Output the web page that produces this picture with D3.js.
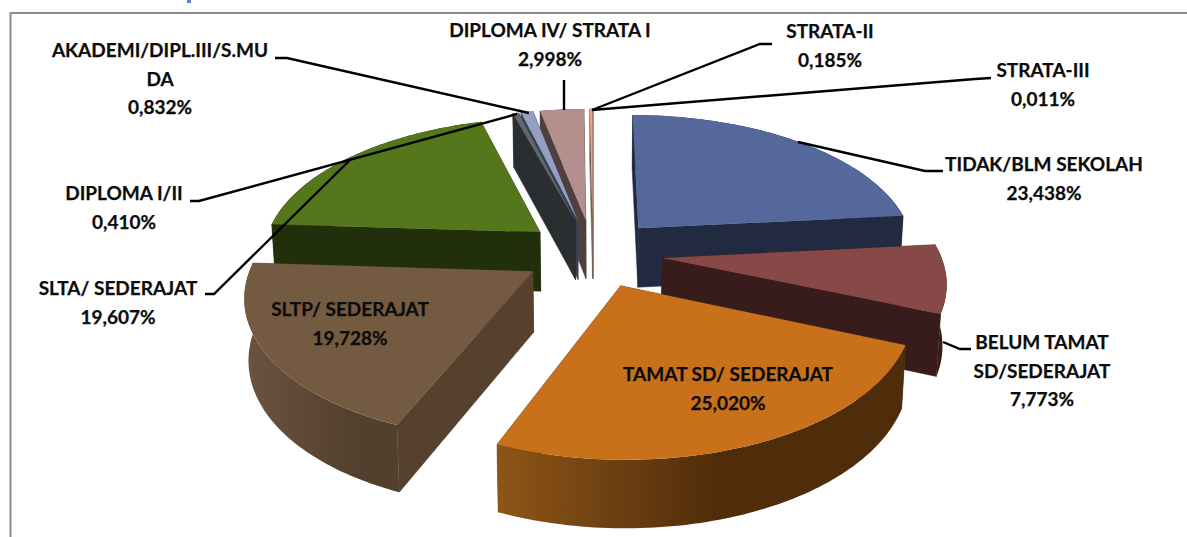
<!DOCTYPE html>
<html><head><meta charset="utf-8">
<script src="https://cdn.jsdelivr.net/npm/d3@7/dist/d3.min.js"></script>
<style>html,body{margin:0;padding:0;background:#fff;overflow:hidden}svg{display:block}
text{font-family:Lato,"Open Sans",sans-serif;font-weight:700;font-size:19px;fill:#0c0c0c;text-anchor:middle;stroke:#0c0c0c;stroke-width:.25}</style>
</head><body><svg id="c" width="1187" height="537"></svg>
<script>
const categories=["TIDAK/BLM SEKOLAH","BELUM TAMAT SD/SEDERAJAT","TAMAT SD/ SEDERAJAT","SLTP/ SEDERAJAT","SLTA/ SEDERAJAT","DIPLOMA I/II","AKADEMI/DIPL.III/S.MUDA","DIPLOMA IV/ STRATA I","STRATA-II","STRATA-III"];
const values=[23.438,7.773,25.020,19.728,19.607,0.410,0.832,2.998,0.185,0.011];
const valueLabels=["23,438%","7,773%","25,020%","19,728%","19,607%","0,410%","0,832%","2,998%","0,185%","0,011%"];
const topColors=["#54689C","#874848","#C8711A","#735A40","#55771B","#60696F","#93A0C4","#B58E8E","#F2A27A","#C9D6A0"];
const wallColors=["#212A40","#381C1C","#56412F","#56412F","#222F0B","#2A2E30","#3A4050","#4F3F3F","#7A6055","#556040"];
const labelLines=[["TIDAK/BLM SEKOLAH"],["BELUM TAMAT","SD/SEDERAJAT"],["TAMAT SD/ SEDERAJAT"],["SLTP/ SEDERAJAT"],["SLTA/ SEDERAJAT"],["DIPLOMA I/II"],["AKADEMI/DIPL.III/S.MU","DA"],["DIPLOMA IV/ STRATA I"],["STRATA-II"],["STRATA-III"]];
const labelPos=[[1044,165],[1042,343],[728,375],[350,310],[118,289],[124,194],[160,51],[550,31],[830,32],[1043,71]];
const leaders=[[[798,142],[925,171],[943,171]],[[943,342],[960,349],[971,349]],null,null,[[205,294],[214,294],[351,159]],[[190,201],[199,201],[517,114]],[[275,58],[287,58],[529,113]],[[564,80],[564,110]],[[772,44],[760,44],[592,110]],[[991,78],[975,79],[592,110]]];

const svg=d3.select("#c");
const W=1187,H=537;
// frame
svg.append("path").attr("d",`M10.5 ${H}V13H${W}`).attr("fill","none").attr("stroke","#8c8c8c").attr("stroke-width",2);
svg.append("rect").attr("x",187).attr("y",0).attr("width",4).attr("height",3).attr("fill","#5B82C8");

// projection of the pie plane (unit radius) onto the screen
const cx=593,cy=253,a=278,b=137,k=0.15,explode=0.25,wall=60;
function proj(u,v){const w=1+k*v;return [cx+a*u/w,cy-b*v/w,w];}
function bottom(p){return [cx+(p[0]-cx)*0.988,p[1]+wall/Math.pow(p[2],0.65)];}

const pie=d3.pie().sort(null).value(d=>d);
const arcs=pie(values).map((d,i)=>({...d,i,mid:(d.startAngle+d.endAngle)/2}));
const line=d3.line();
function sliceGeom(d){
  const ox=explode*Math.sin(d.mid),oy=explode*Math.cos(d.mid);
  const apex=proj(ox,oy);
  const steps=Math.max(2,Math.ceil((d.endAngle-d.startAngle)/0.02));
  const rim=d3.range(steps+1).map(j=>{
    const t=d.startAngle+(d.endAngle-d.startAngle)*j/steps;
    return proj(ox+Math.sin(t),oy+Math.cos(t));
  });
  return {apex,rim};
}
const defs=svg.append("defs");
function grad(id,stops){const g=defs.append("linearGradient").attr("id",id).attr("x1",0).attr("x2",1).attr("y1",0).attr("y2",0);
  stops.forEach(s=>g.append("stop").attr("offset",s[0]).attr("stop-color",s[1]));}
grad("g2",[[0,"#8E5517"],[0.55,"#4F2C0A"],[1,"#4F2C0A"]]);
grad("g3",[[0,"#6B5340"],[0.75,"#533F2D"],[1,"#533F2D"]]);
const arcFill={2:"url(#g2)",3:"url(#g3)"};

arcs.slice().sort((p,q)=>Math.cos(q.mid)-Math.cos(p.mid)).forEach(d=>{
  const {apex,rim}=sliceGeom(d);
  const g=svg.append("g");
  const xy=p=>[p[0],p[1]];
  const col=wallColors[d.i];
  const first=rim[0],last=rim[rim.length-1];
  [first,last].forEach(c=>{
    g.append("path").attr("d",line([xy(apex),xy(c),bottom(c),bottom(apex)])+"Z").attr("fill",col).attr("stroke",col).attr("stroke-width",.5);
  });
  const top=rim.map(xy),bot=rim.map(bottom).reverse();
  g.append("path").attr("d",line(top.concat(bot))+"Z").attr("fill",arcFill[d.i]||col);
  g.append("path").attr("d",line([xy(apex)].concat(top))+"Z").attr("fill",topColors[d.i]);
});

// leaders
leaders.forEach(l=>{if(l)svg.append("path").attr("d",line(l)).attr("fill","none").attr("stroke","#000").attr("stroke-width",2.4);});

// labels
const lh=28.5;
labelLines.forEach((ls,i)=>{
  const t=svg.append("text").attr("x",labelPos[i][0]).attr("y",labelPos[i][1]+6);
  ls.concat([valueLabels[i]]).forEach((s,j)=>t.append("tspan").attr("x",labelPos[i][0]).attr("dy",j?lh:0).text(s));
});
</script></body></html>
